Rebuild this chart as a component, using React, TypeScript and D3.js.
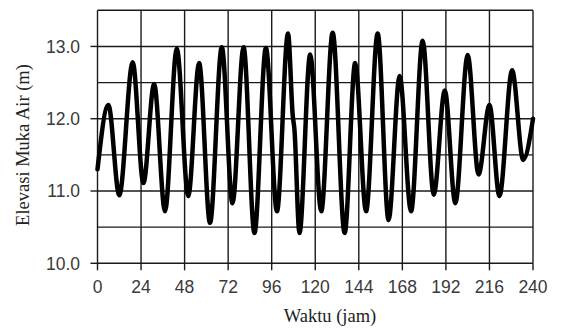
import React from "react";
import * as d3 from "d3";

const hours = [0, 6, 12, 19.4, 25.3, 31.2, 37.2, 43.7, 50, 56, 62, 68.5, 74.4, 80.5, 86.5, 92.8, 98.9, 105, 107.6, 108.5, 111.3, 117.2, 123.3, 129.6, 136.2, 142, 148, 154.4, 160.4, 166.5, 172.8, 179.2, 185.3, 191.4, 197.2, 204, 210, 216, 221.5, 228.5, 234.6, 240];
const levels = [11.3, 12.19, 10.94, 12.78, 11.11, 12.48, 10.72, 12.97, 10.93, 12.77, 10.56, 12.99, 10.83, 12.99, 10.42, 12.98, 10.72, 13.18, 12.04, 11.86, 10.42, 12.89, 10.72, 13.19, 10.42, 12.77, 10.72, 13.18, 10.6, 12.59, 10.72, 13.08, 10.95, 12.39, 10.83, 12.88, 11.23, 12.19, 10.93, 12.67, 11.43, 12.0];
const xTicks = [0, 24, 48, 72, 96, 120, 144, 168, 192, 216, 240];
const yTicks = [10.0, 11.0, 12.0, 13.0];
const yGrid = [10.0, 10.5, 11.0, 11.5, 12.0, 12.5, 13.0, 13.5];

const W = 563, H = 329;
const L = 97.5, R = 533, T = 10.3, B = 263.3;

export default function App() {
  const x = d3.scaleLinear().domain([0, 240]).range([L, R]);
  const y = d3.scaleLinear().domain([10, 13.5]).range([B, T]);
  const pts = hours.map((h, i) => [h, levels[i]] as [number, number]);
  const line = d3.line<[number, number]>()
    .x(d => x(d[0]))
    .y(d => y(d[1]))
    .curve(d3.curveMonotoneX);
  const gridColor = "#1a1a1a";
  return (
    <svg width={W} height={H} style={{ position: "absolute", left: 0, top: 0, background: "#fff" }}>
      <rect x={0} y={0} width={W} height={H} fill="#fff" />
      {yGrid.map(v => (
        <line key={"hy" + v} x1={L} x2={R} y1={y(v)} y2={y(v)} stroke={gridColor} strokeWidth={1.4} />
      ))}
      {xTicks.map(v => (
        <line key={"vx" + v} x1={x(v)} x2={x(v)} y1={T} y2={B} stroke={gridColor} strokeWidth={1.4} />
      ))}
      {xTicks.map(v => (
        <line key={"tx" + v} x1={x(v)} x2={x(v)} y1={B} y2={B + 7} stroke={gridColor} strokeWidth={1.4} />
      ))}
      {yTicks.map(v => (
        <line key={"ty" + v} x1={L - 7} x2={L} y1={y(v)} y2={y(v)} stroke={gridColor} strokeWidth={1.4} />
      ))}
      <path d={line(pts) || ""} fill="none" stroke="#000" strokeWidth={4.5} strokeLinejoin="round" strokeLinecap="round" />
      {xTicks.map(v => (
        <text key={"lx" + v} x={x(v)} y={293} textAnchor="middle" fontFamily="'Liberation Sans', Arial, sans-serif" fontSize={17.5} fill="#3a3a3a">{v}</text>
      ))}
      {yTicks.map(v => (
        <text key={"ly" + v} x={80} y={y(v) + 6.3} textAnchor="end" fontFamily="'Liberation Sans', Arial, sans-serif" fontSize={17.5} fill="#3a3a3a">{v.toFixed(1)}</text>
      ))}
      <text x={330} y={322} textAnchor="middle" fontFamily="'Liberation Serif', 'Times New Roman', serif" fontSize={18.5} fill="#222">Waktu (jam)</text>
      <text transform={`translate(29,${145}) rotate(-90)`} textAnchor="middle" fontFamily="'Liberation Serif', 'Times New Roman', serif" fontSize={18.5} fill="#222">Elevasi Muka Air (m)</text>
    </svg>
  );
}
